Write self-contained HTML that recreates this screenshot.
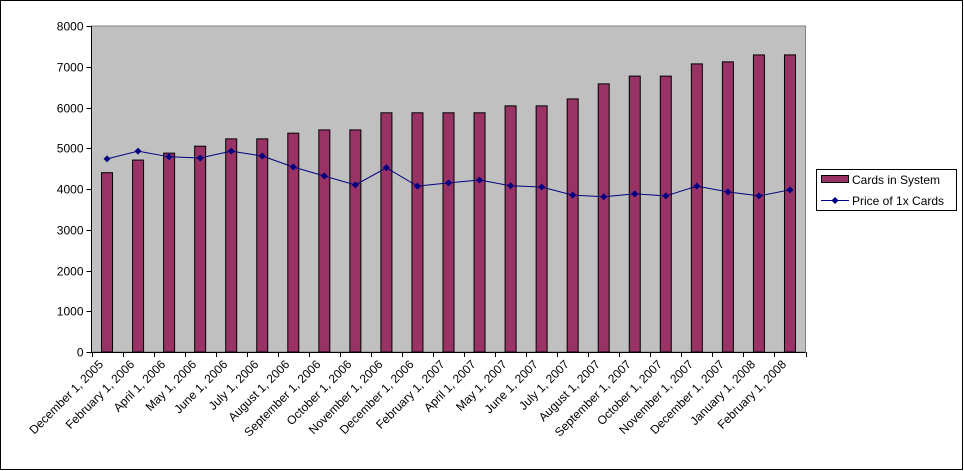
<!DOCTYPE html>
<html><head><meta charset="utf-8"><style>
html,body{margin:0;padding:0;background:#fff;}
svg{display:block;font-family:"Liberation Sans",Arial,sans-serif;}
</style></head><body>
<svg id="chart" width="964" height="471" viewBox="0 0 964 471">
<rect x="0.5" y="0.5" width="962" height="469" fill="#fff" stroke="#000" stroke-width="1"/>
<rect x="91.5" y="26" width="714" height="326" fill="#c0c0c0" stroke="#808080" stroke-width="1"/>
<g id="bars"></g>
<g id="line"></g>
<g id="axes"></g>
<g>
<rect x="816.5" y="169.5" width="140" height="41" fill="#fff" stroke="#000"/>
<rect x="821.5" y="175.5" width="27" height="7" fill="#993366" stroke="#000"/>
<text x="852" y="184" font-size="12" fill="#000">Cards in System</text>
<line x1="821" y1="200.5" x2="849" y2="200.5" stroke="#000080" stroke-width="1"/>
<path d="M835 197 L838.5 200.5 L835 204 L831.5 200.5Z" fill="#000080"/>
<text x="852" y="205" font-size="12" fill="#000">Price of 1x Cards</text>
</g>
</svg>
<script>
const categories = ["December 1, 2005","February 1, 2006","April 1, 2006","May 1, 2006","June 1, 2006","July 1, 2006","August 1, 2006","September 1, 2006","October 1, 2006","November 1, 2006","December 1, 2006","February 1, 2007","April 1, 2007","May 1, 2007","June 1, 2007","July 1, 2007","August 1, 2007","September 1, 2007","October 1, 2007","November 1, 2007","December 1, 2007","January 1, 2008","February 1, 2008"];
const cardsInSystem = [4400,4710,4880,5050,5230,5230,5370,5450,5450,5870,5870,5870,5870,6040,6040,6210,6580,6770,6770,7070,7120,7290,7290];
const priceOf1x = [4740,4930,4790,4760,4930,4810,4540,4320,4100,4520,4070,4150,4220,4080,4050,3850,3810,3880,3830,4070,3930,3830,3980];
const yTicks = [0,1000,2000,3000,4000,5000,6000,7000,8000];

const NS = "http://www.w3.org/2000/svg";
const X0 = 91.5, X1 = 805.5, Y0 = 352, Y1 = 26, YMAX = 8000;
const n = categories.length;
const band = (X1 - X0) / n;
function xc(i){ return X0 + band * (i + 0.5); }
function yv(v){ return Y0 - (v / YMAX) * (Y0 - Y1); }
function mk(tag, attrs, parent){
  const e = document.createElementNS(NS, tag);
  for (const k in attrs) e.setAttribute(k, attrs[k]);
  parent.appendChild(e);
  return e;
}
const gBars = document.getElementById("bars");
const gLine = document.getElementById("line");
const gAxes = document.getElementById("axes");

cardsInSystem.forEach((v, i) => {
  const bw = 11;
  const r = mk("rect", {x: xc(i) - bw/2, y: yv(v), width: bw, height: Y0 - yv(v), fill: "#993366", stroke: "#000", "stroke-width": 1}, gBars);
  
  
});

const pts = priceOf1x.map((v, i) => xc(i) + "," + yv(v)).join(" ");
const pl = mk("polyline", {points: pts, fill: "none", stroke: "#000080", "stroke-width": 1}, gLine);


priceOf1x.forEach((v, i) => {
  const x = xc(i), y = yv(v);
  const m = mk("path", {d: `M${x} ${y-3.5} L${x+3.5} ${y} L${x} ${y+3.5} L${x-3.5} ${y}Z`, fill: "#000080"}, gLine);
  
  
});

const ya = mk("line", {x1: X0, y1: Y1, x2: X0, y2: Y0, stroke: "#000"}, gAxes);


const xa = mk("line", {x1: X0, y1: Y0 + 0.5, x2: X1, y2: Y0 + 0.5, stroke: "#000"}, gAxes);



yTicks.forEach(t => {
  const y = Math.round(yv(t)) + 0.5;
  const tl = mk("line", {x1: X0 - 5, y1: y, x2: X0, y2: y, stroke: "#000"}, gAxes);
  
  
  const tx = mk("text", {x: X0 - 8, y: y + 4, "font-size": 12, "text-anchor": "end", fill: "#000"}, gAxes);
  tx.textContent = t;
  
  
});

for (let i = 0; i <= n; i++) {
  const x = Math.round(X0 + band * i) + 0.5;
  const tl = mk("line", {x1: x, y1: Y0, x2: x, y2: Y0 + 5, stroke: "#000"}, gAxes);
  
  
}
categories.forEach((c, i) => {
  const x = xc(i) - 3, y = 365;
  const tx = mk("text", {x: x, y: y, "font-size": 12, "text-anchor": "end", fill: "#000", transform: `rotate(-45 ${x} ${y})`}, gAxes);
  tx.textContent = c;
  
  
});
</script>
</body></html>
